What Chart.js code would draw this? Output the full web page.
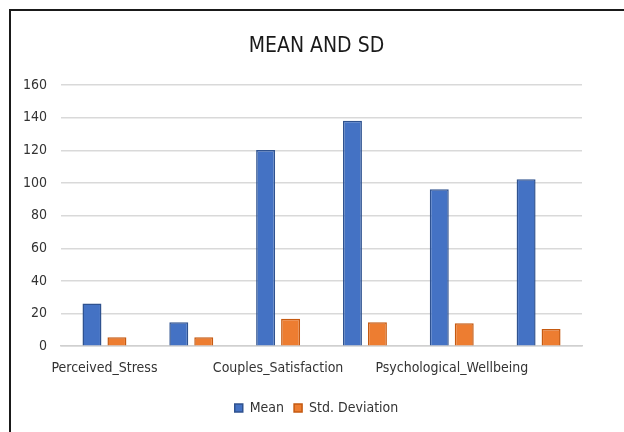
<!DOCTYPE html>
<html>
<head>
<meta charset="utf-8">
<script src="https://cdn.jsdelivr.net/npm/chart.js@4"></script>
<style>
  html, body { margin: 0; padding: 0; background: #fff; }
  #wrap { position: absolute; left: 0; top: 0; width: 624px; height: 432px; }
  #frame { position: absolute; left: 9px; top: 9px; width: 620px; height: 430px;
           border-top: 2px solid #1a1a1a; border-left: 2px solid #1a1a1a; pointer-events: none; }
</style>
</head>
<body>
<div id="wrap"><canvas id="myChart" width="624" height="432"></canvas></div>
<div id="frame"></div>
<script>
// categories (only every other one carries a visible label)
var categories = ['Perceived_Stress', '', 'Couples_Satisfaction', '', 'Psychological_Wellbeing', ''];
var meanValues = [26.1, 14.7, 120.3, 138.2, 96.2, 102.3];
var sdValues = [5.5, 5.5, 16.9, 14.7, 14.1, 10.6];
var yTicks = [0, 20, 40, 60, 80, 100, 120, 140, 160];

var font = "'Liberation Sans Narrow', 'DejaVu Sans Condensed', 'Liberation Sans', sans-serif";

var ctx = document.getElementById('myChart').getContext('2d');
var chart = new Chart(ctx, {
    type: 'bar',
    data: {
        labels: categories,
        datasets: [{
            label: 'Mean',
            backgroundColor: '#4472C4',
            borderColor: '#2F528F',
            borderWidth: 1.5,
            data: meanValues
        }, {
            label: 'Std. Deviation',
            backgroundColor: '#ED7D31',
            borderColor: '#C55A11',
            borderWidth: 1.5,
            data: sdValues
        }]
    },
    options: {
        responsive: false,
        animation: false,
        layout: { padding: { left: 9, right: 0, top: 34, bottom: 7 } },
        datasets: { bar: { categoryPercentage: 0.575, barPercentage: 0.76 } },
        plugins: {
            title: {
                display: true,
                text: 'MEAN AND SD',
                color: '#1a1a1a',
                font: { family: font, size: 21, weight: 'normal' },
                padding: { top: 0, bottom: 26 }
            },
            legend: {
                position: 'bottom',
                labels: {
                    color: '#333',
                    boxWidth: 8, boxHeight: 8,
                    padding: 10,
                    font: { family: font, size: 14 }
                }
            },
            tooltip: { enabled: false }
        },
        scales: {
            x: {
                grid: { display: false, drawTicks: false },
                border: { color: '#d0d0d0', width: 1.5 },
                ticks: {
                    autoSkip: false, maxRotation: 0, padding: 14,
                    color: '#333',
                    font: { family: font, size: 14 }
                }
            },
            y: {
                min: 0, max: 160,
                afterBuildTicks: function (axis) {
                    axis.ticks = yTicks.map(function (v) { return { value: v }; });
                },
                grid: { color: '#d9d9d9', lineWidth: 1.5, drawTicks: false },
                border: { display: false },
                ticks: {
                    padding: 14,
                    color: '#333',
                    font: { family: font, size: 14 }
                }
            },
            // empty right-hand spacer so the plot ends where the original does
            spacer: {
                type: 'linear',
                position: 'right',
                display: true,
                grid: { display: false, drawTicks: false },
                border: { display: false },
                ticks: { display: false },
                afterFit: function (axis) { axis.width = 42; }
            }
        }
    }
});
</script>
</body>
</html>
